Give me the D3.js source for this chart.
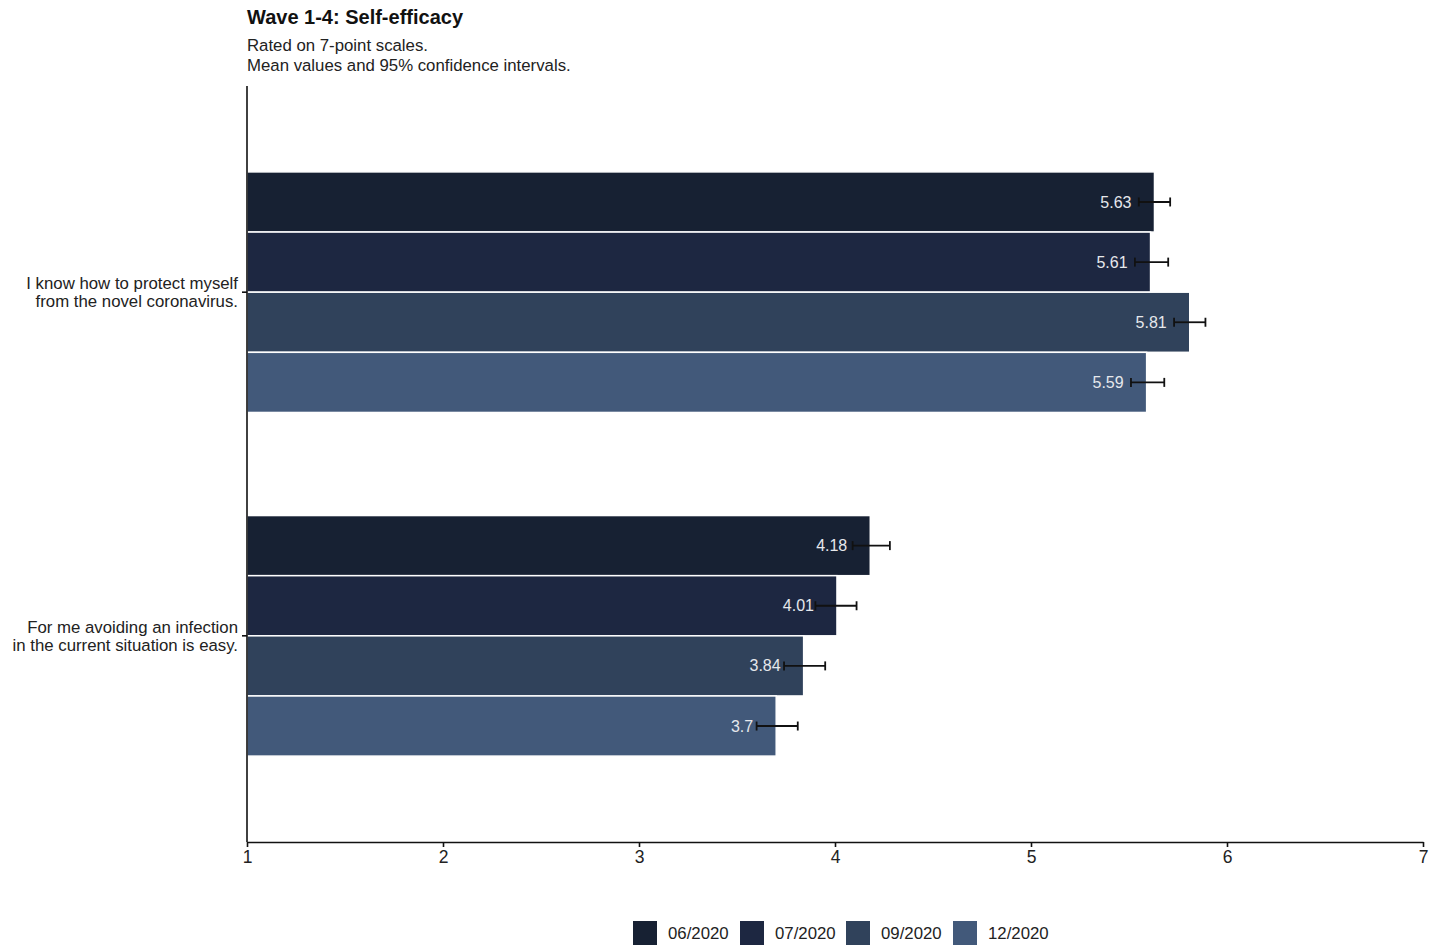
<!DOCTYPE html>
<html>
<head>
<meta charset="utf-8">
<script src="https://cdn.jsdelivr.net/npm/d3@7"></script>
<style>
  html, body { margin: 0; padding: 0; background: #fff; }
  svg { display: block; font-family: "Liberation Sans", Arial, Helvetica, sans-serif; }
  .x-axis .tick text { font-size: 17.5px; fill: #222; }
</style>
</head>
<body>
<svg id="chart" width="1440" height="945"></svg>
<script>
// Survey items (two-line labels) and survey waves
const items = [
  ["I know how to protect myself", "from the novel coronavirus."],
  ["For me avoiding an infection", "in the current situation is easy."]
];
const waves = ["06/2020", "07/2020", "09/2020", "12/2020"];
const waveColors = ["#172133", "#1d2741", "#30425b", "#42597a"];

// Mean values per item, one per wave
const means = [
  [5.63, 5.61, 5.81, 5.59],
  [4.18, 4.01, 3.84, 3.70]
];
// 95% confidence interval bounds
const ciLower = [
  [5.55, 5.53, 5.73, 5.51],
  [4.09, 3.90, 3.74, 3.60]
];
const ciUpper = [
  [5.71, 5.70, 5.89, 5.68],
  [4.28, 4.11, 3.95, 3.81]
];
const xTicks = [1, 2, 3, 4, 5, 6, 7];

const svg = d3.select("#chart");

const plot = { left: 247, right: 1423, top: 86, bottom: 842 };

const x = d3.scaleLinear().domain([1, 7]).range([plot.left, plot.right]);

// Discrete item axis with expansion of 0.6 units on both ends
const yCat = d3.scaleLinear().domain([0.4, 2.6]).range([plot.top, plot.bottom]);
const groupWidth = 0.7;
const barUnits = groupWidth / waves.length;

// Title and subtitle
svg.append("text").attr("x", 247).attr("y", 24)
  .attr("font-size", 20).attr("font-weight", "bold").attr("fill", "#111")
  .text("Wave 1-4: Self-efficacy");
svg.append("text").attr("x", 247).attr("y", 51)
  .attr("font-size", 16.8).attr("fill", "#222")
  .text("Rated on 7-point scales.");
svg.append("text").attr("x", 247).attr("y", 71)
  .attr("font-size", 16.8).attr("fill", "#222")
  .text("Mean values and 95% confidence intervals.");

// Bars
const rows = [];
items.forEach((item, i) => {
  waves.forEach((w, j) => {
    const c = i + 1;
    const y0 = c - groupWidth / 2 + j * barUnits;
    rows.push({ i, j, y0, y1: y0 + barUnits, mean: means[i][j], lo: ciLower[i][j], hi: ciUpper[i][j] });
  });
});

svg.append("g").selectAll("rect").data(rows).join("rect")
  .attr("x", x(1))
  .attr("y", d => yCat(d.y0))
  .attr("width", d => x(d.mean) - x(1))
  .attr("height", d => yCat(d.y1) - yCat(d.y0))
  .attr("fill", d => waveColors[d.j])
  .attr("stroke", "#fff")
  .attr("stroke-width", 1.5);

// Value labels
svg.append("g").selectAll("text").data(rows).join("text")
  .attr("x", d => x(d.mean) - 23)
  .attr("y", d => (yCat(d.y0) + yCat(d.y1)) / 2)
  .attr("dy", "0.35em")
  .attr("text-anchor", "end")
  .attr("font-size", 16)
  .attr("fill", "#e6e8ec")
  .text(d => d.mean);

// Error bars
const eb = svg.append("g").attr("stroke", "#111").attr("stroke-width", 1.8);
rows.forEach(d => {
  const cy = (yCat(d.y0) + yCat(d.y1)) / 2;
  eb.append("line").attr("x1", x(d.lo)).attr("x2", x(d.hi)).attr("y1", cy).attr("y2", cy);
  eb.append("line").attr("x1", x(d.lo)).attr("x2", x(d.lo)).attr("y1", cy - 4.5).attr("y2", cy + 4.5);
  eb.append("line").attr("x1", x(d.hi)).attr("x2", x(d.hi)).attr("y1", cy - 4.5).attr("y2", cy + 4.5);
});

// X axis
const xAxis = svg.append("g")
  .attr("class", "x-axis")
  .attr("transform", `translate(0,${plot.bottom})`)
  .call(d3.axisBottom(x).tickValues(xTicks).tickFormat(d3.format("d")).tickSize(5).tickPadding(4).tickSizeOuter(0));
xAxis.attr("font-size", null).attr("font-family", null);
xAxis.select(".domain").attr("stroke", "#111").attr("stroke-width", 1.6);
xAxis.selectAll(".tick line").attr("stroke", "#111").attr("stroke-width", 1.6);

// Y axis line and ticks
svg.append("line")
  .attr("x1", plot.left).attr("x2", plot.left)
  .attr("y1", plot.top).attr("y2", plot.bottom)
  .attr("stroke", "#111").attr("stroke-width", 1.6);

items.forEach((lines, i) => {
  const cy = yCat(i + 1);
  svg.append("line").attr("x1", plot.left - 5).attr("x2", plot.left)
    .attr("y1", cy).attr("y2", cy).attr("stroke", "#111").attr("stroke-width", 1.6);
  const t = svg.append("text").attr("text-anchor", "end").attr("font-size", 16.8).attr("fill", "#222");
  lines.forEach((ln, k) => {
    t.append("tspan").attr("x", 238).attr("y", cy - 3 + k * 18).text(ln);
  });
});

// Legend
const legendX = [633, 740, 846, 953];
const leg = svg.append("g");
waves.forEach((w, j) => {
  leg.append("rect").attr("x", legendX[j]).attr("y", 921).attr("width", 24).attr("height", 24)
    .attr("fill", waveColors[j]);
  leg.append("text").attr("x", legendX[j] + 35).attr("y", 939)
    .attr("font-size", 16.8).attr("fill", "#222").text(w);
});
</script>
</body>
</html>
